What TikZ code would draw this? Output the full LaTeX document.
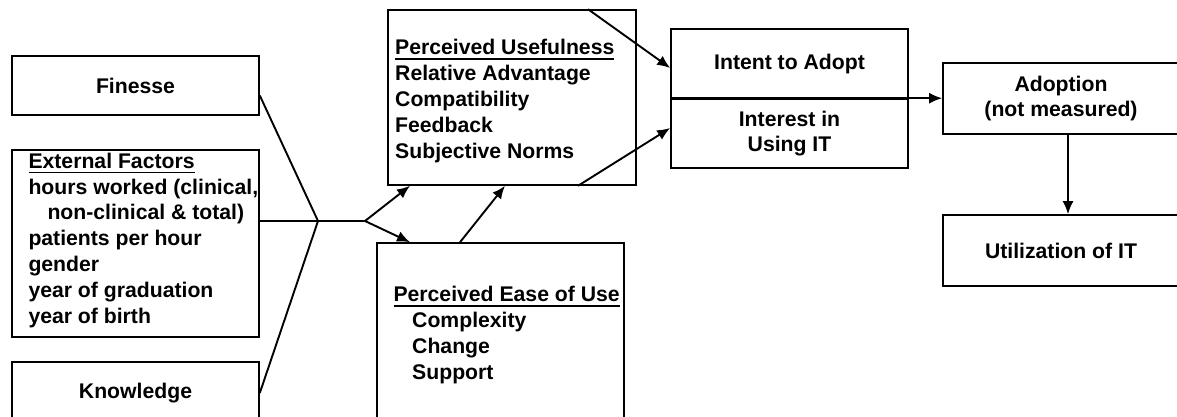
\documentclass[tikz,border=0pt]{standalone}
\usepackage{fontspec}
\setmainfont{Liberation Sans}
\usetikzlibrary{arrows.meta}
% label font and an underline with a heavier rule
\newcommand\lblfont{\fontsize{21.2}{25.8}\selectfont\bfseries}
\newcommand\undl[1]{\leavevmode\setbox0\hbox{#1}\rlap{\rule[-5pt]{\wd0}{1.7pt}}\box0}
\begin{document}
\begin{tikzpicture}[x=1pt,y=-1pt,
  box/.style={draw, line width=1.6pt, inner sep=0pt, font=\lblfont, align=center},
  txt/.style={inner sep=0pt, font=\lblfont, anchor=base west},
  ln/.style={line width=1.9pt},
  arr/.style={ln, -{Latex[length=13pt,width=11pt]}}]
\useasboundingbox (0,0) rectangle (1177,417);
\clip (0,0) rectangle (1177,417);

% input factors
\node[box, minimum width=247pt, minimum height=59pt]  (fin) at (135.5,85.5)  {Finesse};
\node[box, minimum width=247pt, minimum height=187pt] (ext) at (135.5,243.5) {};
\node[txt] (ext-t) at (28.3,168.3) {\parbox[t]{235pt}{\undl{External Factors}\\
  hours worked (clinical,\\
  \hspace*{19pt}non-clinical \& total)\\
  patients per hour\\
  gender\\
  year of graduation\\
  year of birth}};
\node[box, minimum width=247pt, minimum height=62pt]  (kno) at (135.5,393)   {Knowledge};

% perceptions
\node[box, minimum width=248pt, minimum height=175pt] (pu) at (512,97.5) {};
\node[txt] (pu-t) at (395,55) {\parbox[t]{240pt}{\undl{Perceived Usefulness}\\
  Relative Advantage\\
  Compatibility\\
  Feedback\\
  Subjective Norms}};
\node[box, minimum width=247pt, minimum height=187pt] (pe) at (500.5,336.5) {};
\node[txt] (pe-t) at (393.3,301.7) {\parbox[t]{240pt}{\undl{Perceived Ease of Use}\\
  \hspace*{18.7pt}Complexity\\
  \hspace*{18.7pt}Change\\
  \hspace*{18.7pt}Support}};

% intention and outcomes
\node[box, minimum width=237pt, minimum height=70pt] (intent)   at (789.5,64)    {Intent to Adopt};
\node[box, minimum width=237pt, minimum height=69pt] (interest) at (789.5,133.5) {Interest in\\Using IT};
\node[box, minimum width=236pt, minimum height=71pt] (adopt) at (1061,98.5)  {Adoption\\(not measured)};
\node[box, minimum width=236pt, minimum height=71pt] (util)  at (1061,250.5) {Utilization of IT};

% converging lines from the input factors
\coordinate (j)    at (318,221);
\coordinate (fork) at (365,221);
\draw[ln] ([yshift=-10pt]fin.east) -- (j);
\draw[ln] ([yshift=22.5pt]ext.east) -- (fork);
\draw[ln] (kno.east) -- (j);
\draw[arr] (fork) -- ([xshift=-102pt]pu.south);
\draw[arr] (fork) -- ([xshift=-90.5pt]pe.north);
\draw[arr] ([xshift=-40.5pt]pe.north) -- ([xshift=-7pt]pu.south);

% perceptions to intention
\draw[arr] ([xshift=76pt]pu.north) -- ([yshift=-4pt]intent.west);
\draw[arr] ([xshift=66pt]pu.south) -- ([yshift=5.5pt]interest.west);

% intention to adoption to utilization
\draw[arr] (interest.north west) -- (interest.north west -| adopt.west);
\draw[arr] ([xshift=7pt]adopt.south) -- ([xshift=7pt]util.north);
\end{tikzpicture}
\end{document}
